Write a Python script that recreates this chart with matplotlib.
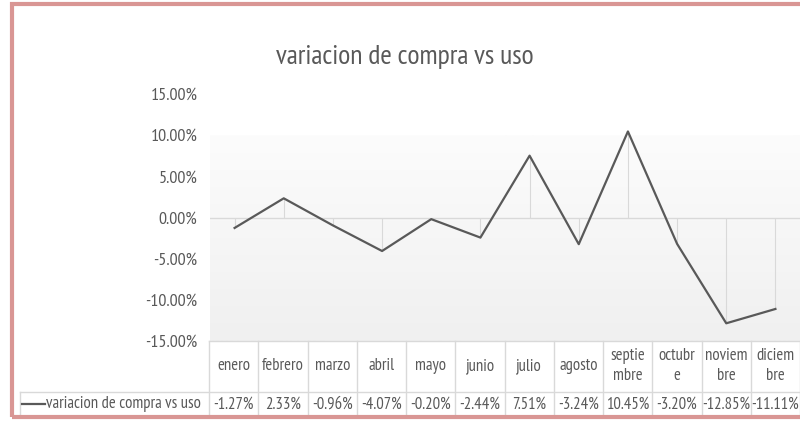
import numpy as np
import matplotlib.pyplot as plt
from matplotlib.patches import Rectangle
from matplotlib.colors import LinearSegmentedColormap

plt.rcParams['font.family'] = ['PT Sans Narrow', 'DejaVu Sans']

# datos
meses = ['enero', 'febrero', 'marzo', 'abril', 'mayo', 'junio', 'julio',
         'agosto', 'septie\nmbre', 'octubr\ne', 'noviem\nbre', 'diciem\nbre']
variacion = [-1.27, 2.33, -0.96, -4.07, -0.20, -2.44, 7.51, -3.24, 10.45, -3.20, -12.85, -11.11]
yticks = [-15, -10, -5, 0, 5, 10, 15]
titulo = 'variacion de compra vs uso'

gris = '#595959'
rejilla = '#d9d9d9'
W, H = 800, 421

fig = plt.figure(figsize=(8, 4.21), dpi=100)

# area del grafico
ax = fig.add_axes([210 / W, 1 - 341 / H, 590 / W, 247 / H])
x = np.arange(len(variacion))
ax.set_xlim(-0.5, len(variacion) - 0.5)
ax.set_ylim(-15, 15)

# fondo degradado
cmap = LinearSegmentedColormap.from_list('fondo', ['#fcfcfc', '#f0f0f0'])
ax.imshow(np.linspace(0, 1, 100).reshape(-1, 1), cmap=cmap, aspect='auto',
          extent=(-0.5, len(variacion) - 0.5, -15, 10), zorder=0)

ax.axhline(0, color=rejilla, lw=1, zorder=1)
ax.vlines(x, 0, variacion, color=rejilla, lw=0.8, zorder=1)
ax.plot(x, variacion, color=gris, lw=1.6, zorder=3)

ax.set_yticks(yticks)
ax.set_yticklabels([f'{t:.2f}%' for t in yticks], fontsize=13, color=gris)
ax.tick_params(axis='y', length=0, pad=9)
ax.set_xticks([])
for s in ax.spines.values():
    s.set_visible(False)

# tabla de datos
tx = fig.add_axes([20 / W, 1 - 417 / H, 780 / W, 76 / H])
izq = -0.5 - 189 / (590 / len(variacion))
tx.set_xlim(izq, len(variacion) - 0.5)
tx.set_ylim(0, 3)
tx.axis('off')

for i in range(len(variacion) + 1):
    tx.plot([i - 0.5, i - 0.5], [0, 3], color=rejilla, lw=1, clip_on=False)
tx.plot([izq, izq], [0, 1], color=rejilla, lw=1, clip_on=False)
tx.plot([-0.5, len(variacion) - 0.5], [3, 3], color=rejilla, lw=1, clip_on=False)
tx.plot([izq, len(variacion) - 0.5], [1, 1], color=rejilla, lw=1, clip_on=False)
tx.plot([izq, len(variacion) - 0.5], [0, 0], color=rejilla, lw=1, clip_on=False)

for i, (m, v) in enumerate(zip(meses, variacion)):
    tx.text(i, 2, m, ha='center', va='center', fontsize=12, color=gris,
            linespacing=1.35)
    tx.text(i, 0.5, f'{v:.2f}%', ha='center', va='center', fontsize=12, color=gris)

# leyenda dentro de la tabla
paso = 590 / len(variacion)
tx.plot([izq + 2 / paso, izq + 25 / paso], [0.5, 0.5], color=gris, lw=1.6)
tx.text(izq + 26 / paso, 0.5, titulo, ha='left', va='center', fontsize=12, color=gris)

fig.text(405 / W, 1 - 57 / H, titulo, ha='center', va='center', fontsize=20, color=gris)

# borde del grafico
fig.add_artist(Rectangle((12 / W, 4 / H), 1.0, 1 - 8 / H, transform=fig.transFigure,
                         fill=False, edgecolor='#d99694', lw=3))

fig.savefig('out.png', dpi=100)
